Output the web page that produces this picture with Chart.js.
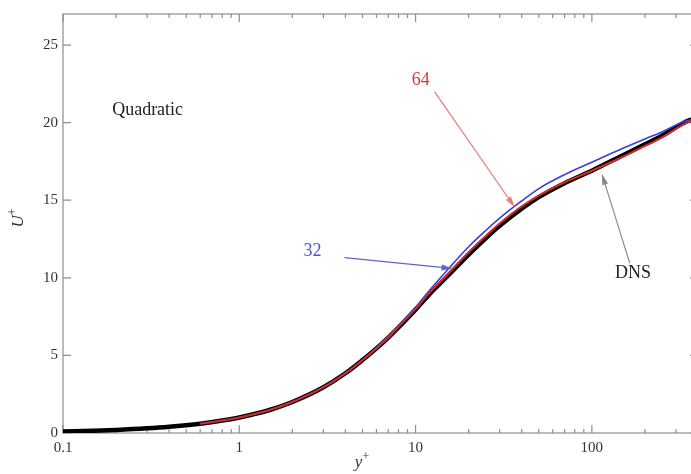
<!DOCTYPE html>
<html>
<head>
<meta charset="utf-8">
<script src="https://cdn.jsdelivr.net/npm/chart.js@4"></script>
<style>
    html, body { margin: 0; padding: 0; overflow: hidden; background: #fff; }
    #contenedor { width: 760px; height: 474px; }
</style>
</head>
<body>
<div id="contenedor"><canvas id="perfilChart" width="760" height="474"></canvas></div>
<script>
// Perfil DNS (y+, U+)
const yPlusDns = [0.1, 0.15, 0.2, 0.3, 0.4, 0.6, 0.8, 1, 1.5, 2, 3, 4, 5, 6, 7, 8, 10, 12, 15, 20, 25, 30, 40, 50, 70, 100, 150, 200, 250, 300, 340, 370, 395];
const uPlusDns = [0.1, 0.15, 0.2, 0.3, 0.4, 0.6, 0.8, 1.0, 1.5, 2.0, 2.95, 3.85, 4.7, 5.45, 6.15, 6.8, 7.95, 8.95, 10.05, 11.5, 12.55, 13.35, 14.45, 15.2, 16.1, 16.9, 17.9, 18.6, 19.15, 19.7, 20.05, 20.2, 20.25];

// Perfiles LES (mallas 32 y 64)
const yPlusLes = [0.6, 0.8, 1, 1.5, 2, 3, 4, 5, 6, 7, 8, 10, 12, 15, 20, 25, 30, 40, 50, 70, 100, 150, 200, 250, 300, 340, 370, 395];
const uPlus32 = [0.6, 0.8, 1.0, 1.5, 2.0, 2.95, 3.85, 4.7, 5.5, 6.25, 6.9, 8.1, 9.2, 10.45, 12.0, 13.05, 13.85, 14.95, 15.75, 16.65, 17.45, 18.35, 18.95, 19.4, 19.85, 20.1, 20.2, 20.25];
const uPlus64 = [0.6, 0.8, 1.0, 1.5, 2.0, 2.95, 3.85, 4.7, 5.45, 6.15, 6.85, 8.0, 9.05, 10.15, 11.65, 12.7, 13.5, 14.6, 15.3, 16.15, 16.9, 17.8, 18.5, 19.05, 19.6, 19.95, 20.1, 20.15];

// Etiquetas de los ejes
const xTicksMayores = [0.1, 1, 10, 100];
const yTicksMayores = [0, 5, 10, 15, 20, 25];

// Anotaciones en coordenadas de datos
const anotaciones = [
    { texto: '64', color: '#d63b3b', flecha: '#e87a7a', x: 10.7, y: 22.75, desde: [12.8, 22.0], hasta: [36.5, 14.55] },
    { texto: '32', color: '#4a55d0', flecha: '#5a66d8', x: 2.6, y: 11.7, desde: [3.95, 11.3], hasta: [16.2, 10.6] },
    { texto: 'DNS', color: '#222', flecha: '#8a8a8a', x: 171, y: 10.3, desde: [164, 10.95], hasta: [114, 16.7] }
];

const fuente = 'Liberation Serif, Times New Roman, serif';

function aPuntos(xs, ys) {
    return xs.map((v, i) => ({ x: v, y: ys[i] }));
}

// Dibujar una flecha con punta rellena
function dibujarFlecha(ctx, x1, y1, x2, y2, color) {
    const ang = Math.atan2(y2 - y1, x2 - x1);
    ctx.strokeStyle = color;
    ctx.fillStyle = color;
    ctx.lineWidth = 1.2;
    ctx.beginPath();
    ctx.moveTo(x1, y1);
    ctx.lineTo(x2 - 6 * Math.cos(ang), y2 - 6 * Math.sin(ang));
    ctx.stroke();
    ctx.beginPath();
    ctx.moveTo(x2, y2);
    ctx.lineTo(x2 - 11 * Math.cos(ang) + 3 * Math.sin(ang), y2 - 11 * Math.sin(ang) - 3 * Math.cos(ang));
    ctx.lineTo(x2 - 11 * Math.cos(ang) - 3 * Math.sin(ang), y2 - 11 * Math.sin(ang) + 3 * Math.cos(ang));
    ctx.closePath();
    ctx.fill();
}

// Texto en cursiva con superindice "+"
function textoSuper(ctx, base, cx, cy) {
    ctx.font = 'italic 17px ' + fuente;
    const w = ctx.measureText(base).width;
    ctx.font = '12px ' + fuente;
    const w2 = ctx.measureText('+').width;
    const x0 = cx - (w + w2) / 2;
    ctx.textAlign = 'left';
    ctx.textBaseline = 'alphabetic';
    ctx.font = 'italic 17px ' + fuente;
    ctx.fillText(base, x0, cy + 6);
    ctx.font = '12px ' + fuente;
    ctx.fillText('+', x0 + w, cy - 1);
}

// Marco y marcas hacia dentro en los cuatro lados
const marcoPlugin = {
    id: 'marco',
    beforeDatasetsDraw(chart) {
        const { ctx, chartArea: a, scales: { x, y } } = chart;
        ctx.save();
        ctx.strokeStyle = '#8e8e8e';
        ctx.lineWidth = 1.2;
        ctx.strokeRect(a.left, a.top, a.right - a.left, a.bottom - a.top);
        ctx.beginPath();
        for (let k = -1; k <= 2; k++) {
            for (let m = 1; m <= 9; m++) {
                const v = m * Math.pow(10, k);
                if (v > x.max) continue;
                const px = x.getPixelForValue(v);
                const len = m === 1 ? 8 : 4;
                ctx.moveTo(px, a.bottom);
                ctx.lineTo(px, a.bottom - len);
                ctx.moveTo(px, a.top);
                ctx.lineTo(px, a.top + len);
            }
        }
        yTicksMayores.forEach(v => {
            const py = y.getPixelForValue(v);
            ctx.moveTo(a.left, py);
            ctx.lineTo(a.left + 8, py);
            ctx.moveTo(a.right, py);
            ctx.lineTo(a.right - 8, py);
        });
        ctx.stroke();
        ctx.restore();
    },
    afterDatasetsDraw(chart) {
        const { ctx, scales: { x, y } } = chart;
        ctx.save();
        ctx.font = '18px ' + fuente;
        ctx.textBaseline = 'middle';

        // Texto del modelo
        ctx.fillStyle = '#222';
        ctx.textAlign = 'left';
        ctx.fillText('Quadratic', x.getPixelForValue(0.19), y.getPixelForValue(20.8));

        ctx.textAlign = 'center';
        anotaciones.forEach(an => {
            ctx.fillStyle = an.color;
            ctx.fillText(an.texto, x.getPixelForValue(an.x), y.getPixelForValue(an.y));
            dibujarFlecha(ctx,
                x.getPixelForValue(an.desde[0]), y.getPixelForValue(an.desde[1]),
                x.getPixelForValue(an.hasta[0]), y.getPixelForValue(an.hasta[1]),
                an.flecha);
        });
        ctx.restore();
    },
    afterDraw(chart) {
        const { ctx } = chart;
        ctx.save();
        ctx.fillStyle = '#333';
        // Titulo del eje x
        textoSuper(ctx, 'y', 362, 461);
        // Titulo del eje y (girado)
        ctx.translate(18, 218);
        ctx.rotate(-Math.PI / 2);
        textoSuper(ctx, 'U', 0, -1);
        ctx.restore();
    }
};

document.addEventListener('DOMContentLoaded', () => {
    const ctx = document.getElementById('perfilChart').getContext('2d');
    new Chart(ctx, {
        type: 'line',
        data: {
            datasets: [
                {
                    label: '64',
                    data: aPuntos(yPlusLes, uPlus64),
                    borderColor: '#d42a2a',
                    borderWidth: 2,
                    order: 0
                },
                {
                    label: '32',
                    data: aPuntos(yPlusLes, uPlus32),
                    borderColor: '#3a40d6',
                    borderWidth: 1.6,
                    order: 1
                },
                {
                    label: 'DNS',
                    data: aPuntos(yPlusDns, uPlusDns),
                    borderColor: '#000',
                    borderWidth: 4.5,
                    order: 2
                }
            ]
        },
        options: {
            responsive: false,
            animation: false,
            devicePixelRatio: 1,
            layout: { padding: { left: 0, top: 10, right: 62, bottom: 0 } },
            elements: {
                point: { radius: 0 },
                line: { cubicInterpolationMode: 'monotone', fill: false }
            },
            plugins: {
                legend: { display: false },
                tooltip: { enabled: false }
            },
            scales: {
                x: {
                    type: 'logarithmic',
                    min: 0.1,
                    max: 400,
                    grid: { display: false, drawTicks: false },
                    border: { display: false },
                    afterBuildTicks: scale => {
                        scale.ticks = xTicksMayores.map(v => ({ value: v }));
                    },
                    afterFit: scale => {
                        scale.height = 41;
                        scale.paddingLeft = 0;
                        scale.paddingRight = 0;
                    },
                    ticks: {
                        autoSkip: false,
                        maxRotation: 0,
                        padding: 6,
                        color: '#333',
                        font: { family: fuente, size: 15 },
                        callback: v => String(v)
                    }
                },
                y: {
                    min: 0,
                    max: 27,
                    grid: { display: false, drawTicks: false },
                    border: { display: false },
                    afterBuildTicks: scale => {
                        scale.ticks = yTicksMayores.map(v => ({ value: v }));
                    },
                    afterFit: scale => {
                        scale.width = 63;
                    },
                    ticks: {
                        padding: 5,
                        color: '#333',
                        font: { family: fuente, size: 15 }
                    }
                }
            }
        },
        plugins: [marcoPlugin]
    });
});
</script>
</body>
</html>
